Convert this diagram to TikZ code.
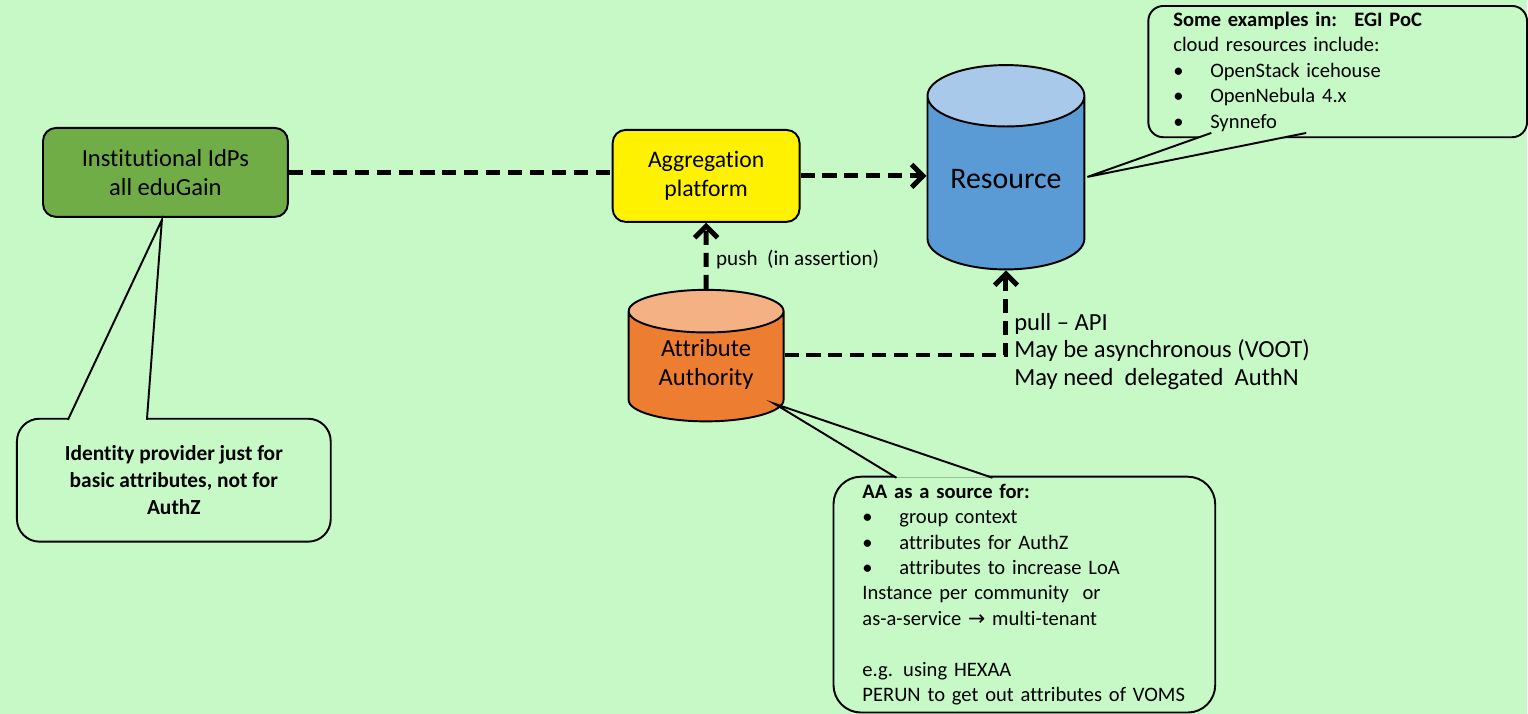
\documentclass[tikz,border=0pt]{standalone}
\usepackage{fontspec}
\setmainfont{Carlito}[Ligatures={TeX,NoCommon}]
\newfontfamily\symfont{DejaVu Sans}
\usetikzlibrary{shapes,calc,arrows.meta}
\usepackage{xcolor}

\definecolor{slidebg}{HTML}{C6F9C6}
\definecolor{idpgreen}{HTML}{70AD47}
\definecolor{resblue}{HTML}{5B9BD5}
\definecolor{restop}{HTML}{A9C9EB}
\definecolor{aaorange}{HTML}{ED7D31}
\definecolor{aatop}{HTML}{F4B183}

\newcommand{\bitem}[1]{\makebox[0.74cm][l]{\textbullet}#1}

\tikzset{
  box/.style={draw, line width=1.1pt, rounded corners=0.26cm, align=center, font=\fontsize{14}{16.8}\selectfont},
  drum/.style={draw, line width=1.1pt, cylinder, shape border rotate=90, cylinder uses custom fill, align=center},
  callout/.style={draw, line width=1.1pt, fill=slidebg, anchor=north west, font=\fontsize{11.7}{14.5}\selectfont},
  pointer/.style={draw, line width=1.1pt, fill=slidebg},
  flow/.style={line width=2.8pt, dash pattern=on 8pt off 4.5pt},
  flowarrow/.style={-{Straight Barb[length=6.5pt,width=13pt]}},
}

\begin{document}
\begin{tikzpicture}[x=0.02cm,y=-0.02cm]

  \fill[slidebg] (0,0) rectangle (1528,714);

  % main boxes
  \draw (165.5,172.5) node (idp) [box, fill=idpgreen, minimum width=4.9cm, minimum height=1.78cm] {Institutional IdPs\\all eduGain};
  \draw (706.5,176) node (agg) [box, fill=yellow, minimum width=3.74cm, minimum height=1.84cm, font=\fontsize{13.5}{16.8}\selectfont] {Aggregation\\platform};
  \draw (1006.5,189) node (res) [drum, cylinder body fill=resblue, cylinder end fill=restop, minimum width=3.14cm, minimum height=4.09cm, aspect=0.5, text height=0.45cm, text depth=0.48cm, font=\fontsize{17}{20}\selectfont] {Resource};
  \draw (706.5,371) node (aa) [drum, cylinder body fill=aaorange, cylinder end fill=aatop, minimum width=3.1cm, minimum height=2.44cm, aspect=0.4, text depth=0.33cm, font=\fontsize{14}{16.8}\selectfont] {Attribute\\Authority};

  % connectors
  \draw[flow] (idp.east) -- (agg.west |- idp.east);
  \draw[flow, flowarrow] (agg.east) -- (res.west |- agg.east);
  \draw[flow, flowarrow] (aa.north) -- node[right, xshift=1pt, yshift=-2pt, font=\fontsize{12}{14.5}\selectfont] {push~ (in assertion)} (agg.south);
  \draw[flow, flowarrow] ([yshift=9pt]aa.east) -| node[pos=0.5, anchor=west, yshift=2pt, align=left, font=\fontsize{14}{15.5}\selectfont] {pull -- API\\May be asynchronous (VOOT)\\May need~ delegated~ AuthN} (res.south);

  % callouts
  \draw (16,418) node (idpnote) [callout, rounded corners=0.45cm, minimum width=6.28cm, minimum height=2.46cm, align=center, font=\bfseries\fontsize{12.2}{15.3}\selectfont] {Identity provider just for\\basic attributes, not for\\AuthZ};
  \coordinate (idptip) at (162,220);
  \filldraw[pointer] (68,420) -- (idptip) -- (147,420);

  \draw (1148,5) node (resnote) [callout, rounded corners=0.3cm, minimum width=7.58cm, minimum height=2.6cm, text width=6.58cm, inner xsep=0.5cm, align=left] {\textbf{Some examples in:~ EGI PoC}\\cloud resources include:\\\bitem{OpenStack icehouse}\\\bitem{OpenNebula 4.x}\\\bitem{Synnefo}};
  \coordinate (restip) at (1088,177);
  \filldraw[pointer] (1212,133) -- (restip) -- (1307,133);

  \draw (833,476) node (aanote) [callout, rounded corners=0.55cm, minimum width=7.64cm, minimum height=4.72cm, text width=6.48cm, inner xsep=0.58cm, align=left] {\textbf{AA as a source for:}\\\bitem{group context}\\\bitem{attributes for AuthZ}\\\bitem{attributes to increase LoA}\\Instance per community~ or\\as-a-service {\symfont →} multi-tenant\\[14.5pt]e.g. using HEXAA\\PERUN to get out attributes of VOMS};
  \coordinate (aatip) at (775,404);
  \filldraw[pointer] (897,478) -- (aatip) -- (993,478);

\end{tikzpicture}
\end{document}
